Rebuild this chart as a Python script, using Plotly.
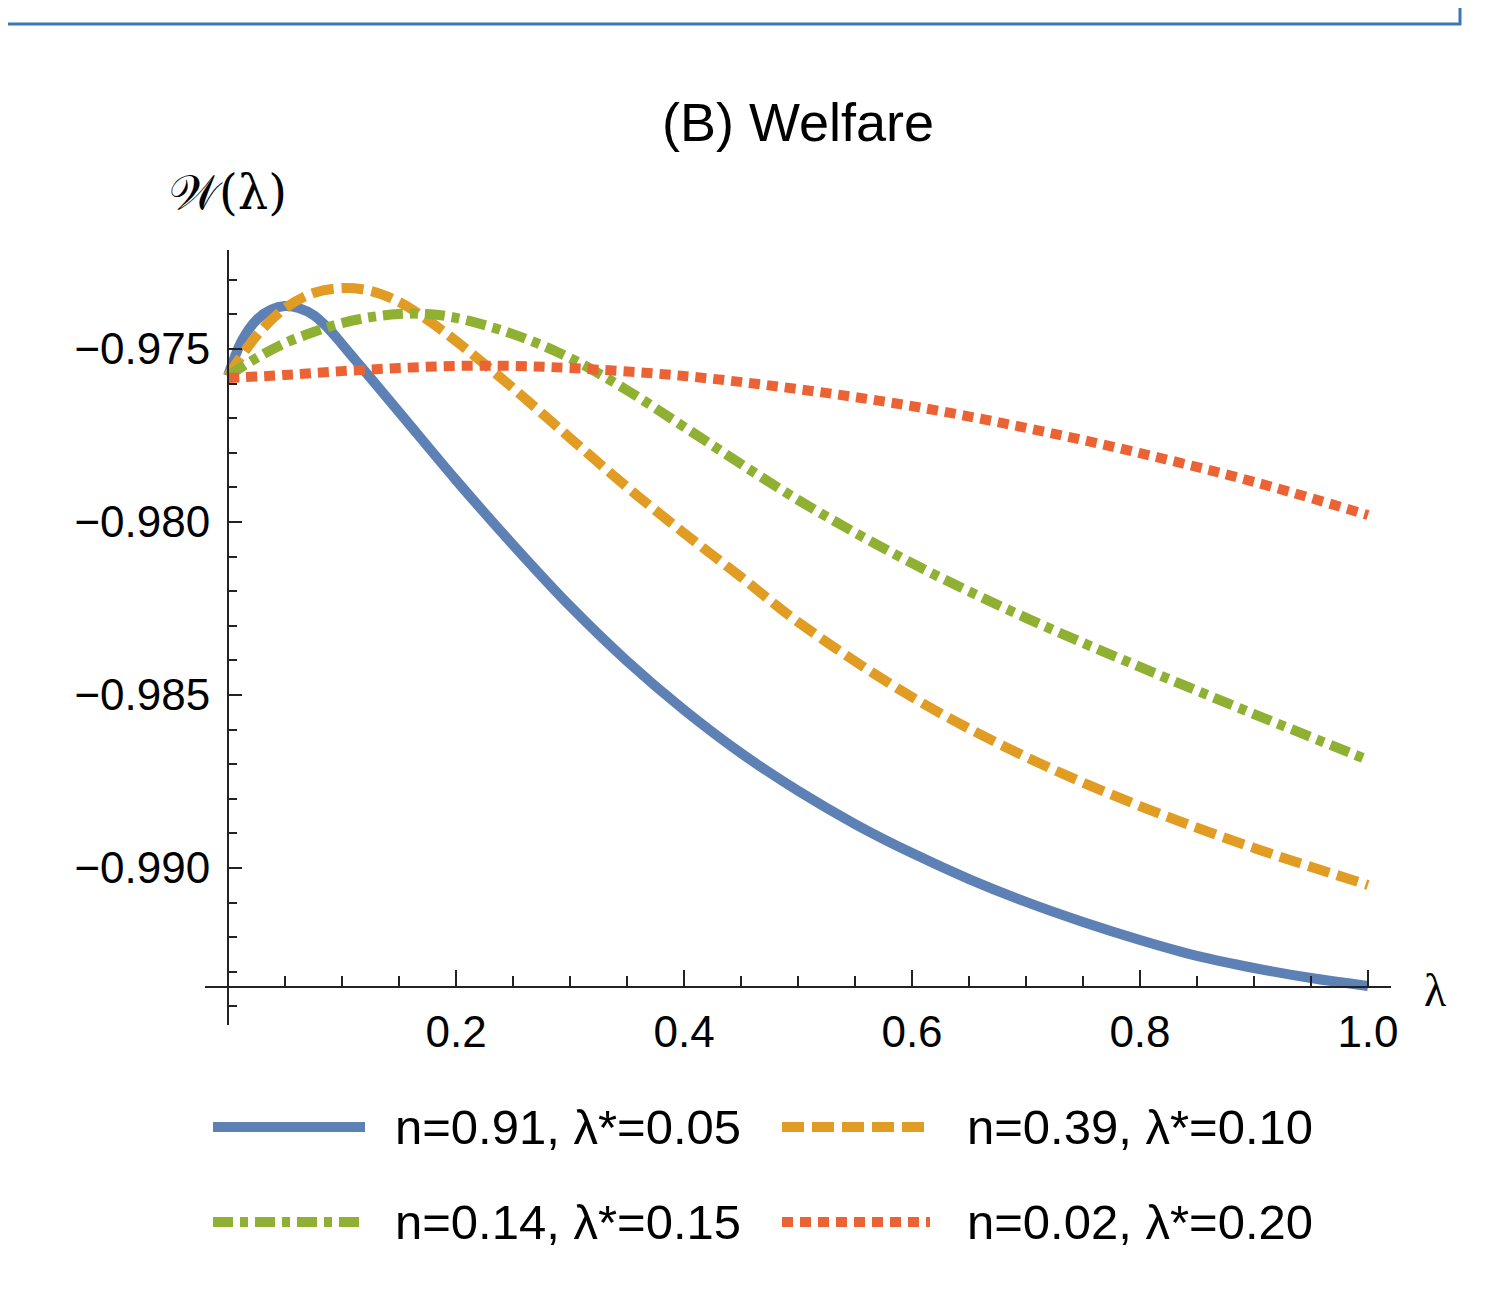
import plotly.graph_objects as go

# ---- data ----
x_blue = [0, 0.0125, 0.025, 0.0375, 0.05, 0.0625, 0.075, 0.0875, 0.1, 0.1125, 0.125, 0.15, 0.2, 0.25, 0.3,
          0.35, 0.4, 0.45, 0.5, 0.55, 0.6, 0.65, 0.7, 0.75, 0.8, 0.85, 0.9, 0.95, 1.0]
y_blue = [-0.97578, -0.97474, -0.97416, -0.97387, -0.97376, -0.97382, -0.97402, -0.97439, -0.97486, -0.97535,
          -0.97584, -0.97682, -0.97879, -0.98066, -0.98243, -0.98402, -0.98543, -0.98668, -0.98777, -0.98873,
          -0.98957, -0.99032, -0.99098, -0.99156, -0.99208, -0.99254, -0.99289, -0.99318, -0.99341]

x_orange = [0, 0.025, 0.05, 0.075, 0.1, 0.125, 0.15, 0.175, 0.2, 0.25, 0.3, 0.35, 0.4, 0.45, 0.5, 0.6, 0.7, 0.8, 0.9, 1.0]
y_orange = [-0.97578, -0.97462, -0.97382, -0.97338, -0.97324, -0.97332, -0.97364, -0.97416, -0.97477, -0.97613,
            -0.97757, -0.97899, -0.98032, -0.98159, -0.98289, -0.98506, -0.98679, -0.98821, -0.98942, -0.99049]

x_green = [0, 0.025, 0.05, 0.075, 0.1, 0.125, 0.15, 0.175, 0.2, 0.25, 0.3, 0.35, 0.4, 0.5, 0.6, 0.7, 0.8, 0.9, 1.0]
y_green = [-0.97578, -0.97526, -0.97483, -0.97451, -0.97425, -0.97408, -0.97399, -0.97399, -0.97410, -0.97457,
           -0.97526, -0.97619, -0.97725, -0.97936, -0.98119, -0.98277, -0.98419, -0.98555, -0.98688]

x_red = [0, 0.05, 0.1, 0.15, 0.2, 0.25, 0.3, 0.4, 0.5, 0.6, 0.7, 0.8, 0.9, 1.0]
y_red = [-0.97584, -0.97575, -0.97564, -0.97555, -0.97549, -0.97549, -0.97555, -0.97578, -0.97616, -0.97665,
         -0.97728, -0.97801, -0.97884, -0.97980]

series_names = ["n=0.91, λ*=0.05", "n=0.39, λ*=0.10", "n=0.14, λ*=0.15", "n=0.02, λ*=0.20"]
series_colors = ["#5E81B5", "#E19C24", "#8FB032", "#EB6235"]
series_dash = ["solid", "22px,8px", "20px,7px,8px,7px", "11px,7px"]

x_tickvals = [0.2, 0.4, 0.6, 0.8, 1.0]
x_ticktext = ["0.2", "0.4", "0.6", "0.8", "1.0"]
y_tickvals = [-0.975, -0.980, -0.985, -0.990]
y_ticktext = ["\u22120.975", "\u22120.980", "\u22120.985", "\u22120.990"]

title_text = "(B) Welfare"
y_label = "\U0001D4B2(\u03bb)"
x_label = "\u03bb"

# ---- figure geometry (page pixels; the page body adds an 8px margin) ----
OFF = 8
W, H = 1486 - 2 * OFF, 1302 - 2 * OFF
PW, PH = 1186, 775
ML = 205 - OFF
MT = 250 - OFF
MR = W - ML - PW
MB = H - MT - PH
XR = [-0.0202, 1.0202]
YR = [-0.994538, -0.972139]
x_axis_at = -0.993439  # value where horizontal axis crosses


def px_to_paper_x(px):
    return (px - OFF - ML) / PW


def py_to_paper_y(py):
    return (MT + PH - (py - OFF)) / PH


fig = go.Figure()
data = [(x_blue, y_blue), (x_orange, y_orange), (x_green, y_green), (x_red, y_red)]
for (xs, ys), name, col, dash in zip(data, series_names, series_colors, series_dash):
    fig.add_trace(go.Scatter(
        x=xs, y=ys, mode="lines", name=name,
        line=dict(color=col, width=10, dash=dash, shape="spline", smoothing=1.0),
        showlegend=False,
    ))

axis_color = "#222222"
font_family = "Liberation Sans, Arial, sans-serif"

fig.update_layout(
    width=W, height=H,
    margin=dict(l=ML, r=MR, t=MT, b=MB),
    paper_bgcolor="white", plot_bgcolor="white",
    font=dict(family=font_family, color="black"),
    showlegend=False,
    title=dict(text=title_text, x=0.5, xref="paper", y=1 - (122 - OFF) / H, yref="container",
               xanchor="center", yanchor="middle", font=dict(size=54, family=font_family, color="black")),
    xaxis=dict(
        range=XR, domain=[0, 1], anchor="free",
        position=(x_axis_at - YR[0]) / (YR[1] - YR[0]),
        showgrid=False, zeroline=False, showline=True, linecolor=axis_color, linewidth=2,
        tickmode="array", tickvals=x_tickvals, ticktext=x_ticktext,
        ticks="inside", ticklen=16, tickwidth=2, tickcolor=axis_color,
        tickfont=dict(size=44, family=font_family, color="black"),
        ticklabelstandoff=6,
        minor=dict(tickmode="linear", tick0=0, dtick=0.05, ticks="inside", ticklen=10,
                   tickwidth=2, tickcolor=axis_color, showgrid=False),
    ),
    yaxis=dict(
        range=YR, domain=[0, 1], anchor="free",
        position=(0 - XR[0]) / (XR[1] - XR[0]),
        showgrid=False, zeroline=False, showline=True, linecolor=axis_color, linewidth=2,
        tickmode="array", tickvals=y_tickvals, ticktext=y_ticktext,
        ticks="inside", ticklen=13, tickwidth=2, tickcolor=axis_color,
        tickfont=dict(size=44, family=font_family, color="black"),
        ticklabelstandoff=8,
        minor=dict(tickmode="linear", tick0=-0.975, dtick=0.001, ticks="inside", ticklen=8,
                   tickwidth=2, tickcolor=axis_color, showgrid=False),
    ),
)

annotations = [
    dict(text=y_label, xref="paper", yref="paper", x=px_to_paper_x(228), y=py_to_paper_y(192),
         xanchor="center", yanchor="middle", showarrow=False,
         font=dict(size=48, family="DejaVu Serif, Liberation Serif, serif", color="black")),
    dict(text=x_label, xref="paper", yref="paper", x=px_to_paper_x(1435), y=py_to_paper_y(990),
         xanchor="center", yanchor="middle", showarrow=False,
         font=dict(size=46, family="Liberation Serif, serif", color="black")),
]

shapes = []
# custom legend (long line samples)
leg_rows = [1127, 1127, 1222, 1222]
leg_line_x = [(213, 365), (782, 930), (213, 365), (782, 930)]
leg_text_x = [393, 965, 393, 965]
for i in range(4):
    y = py_to_paper_y(leg_rows[i])
    shapes.append(dict(type="line", xref="paper", yref="paper",
                       x0=px_to_paper_x(leg_line_x[i][0]), x1=px_to_paper_x(leg_line_x[i][1]),
                       y0=y, y1=y,
                       line=dict(color=series_colors[i], width=10, dash=series_dash[i])))
    annotations.append(dict(text=series_names[i], xref="paper", yref="paper",
                            x=px_to_paper_x(leg_text_x[i]), y=y, xanchor="left", yanchor="middle",
                            showarrow=False, font=dict(size=49, family=font_family, color="black")))

# blue frame fragment at the top of the page
frame_col = "#3A78B5"
shapes.append(dict(type="line", xref="paper", yref="paper",
                   x0=px_to_paper_x(OFF), x1=px_to_paper_x(1461),
                   y0=py_to_paper_y(24), y1=py_to_paper_y(24),
                   line=dict(color=frame_col, width=3)))
shapes.append(dict(type="line", xref="paper", yref="paper",
                   x0=px_to_paper_x(1460), x1=px_to_paper_x(1460),
                   y0=py_to_paper_y(OFF), y1=py_to_paper_y(25),
                   line=dict(color=frame_col, width=3)))

fig.update_layout(annotations=annotations, shapes=shapes)

fig.write_html("out.html")
